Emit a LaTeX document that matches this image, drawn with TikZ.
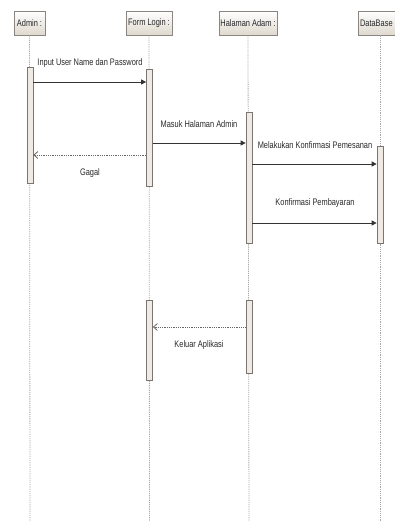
\documentclass[tikz,border=0pt]{standalone}
\usepackage{fontspec}
\setmainfont{Liberation Sans}[FakeStretch=0.78]
\usetikzlibrary{arrows.meta}
\definecolor{hdfill}{HTML}{DFD9CE}
\definecolor{hdline}{HTML}{8A8580}
\definecolor{barfill}{HTML}{EFEBE4}
\definecolor{barline}{HTML}{7A7570}
\definecolor{lifegray}{HTML}{A8A8A8}
\definecolor{txt}{HTML}{282828}
\begin{document}
\begin{tikzpicture}[x=1pt,y=-1pt,
  header/.style={draw=hdline,line width=0.7pt,top color=white,bottom color=hdfill,inner sep=0pt,font=\fontsize{9.5}{10}\selectfont,text=txt},
  bar/.style={draw=barline,line width=0.7pt,fill=barfill},
  life/.style={draw=lifegray,line width=0.8pt,dash pattern=on 1.2pt off 1pt},
  msg/.style={draw=black!80,line width=0.8pt,-{Triangle[length=5pt,width=5pt]}},
  ret/.style={draw=black!60,line width=0.8pt,dash pattern=on 1pt off 0.8pt,-{Straight Barb[length=4pt,width=7pt]}},
  lbl/.style={font=\fontsize{9.5}{10}\selectfont,text=txt,inner sep=0pt}]
\useasboundingbox (0,0) rectangle (395,521);
\clip (0,0) rectangle (395,521);
% headers
\node[header,minimum width=31pt,minimum height=24pt] (hA) at (29.5,23) {Admin :};
\node[header,minimum width=46pt,minimum height=24pt] (hF) at (149,23) {Form Login :};
\node[header,minimum width=58pt,minimum height=24pt] (hH) at (248,23) {Halaman Adam :};
\node[header,minimum width=44pt,minimum height=24pt,anchor=west] (hD) at (358,23) {\hspace*{-8pt}DataBase};
% lifeline ends
\coordinate (eA) at (30,521);
\coordinate (eF) at (149.5,521);
\coordinate (eH) at (249,521);
\coordinate (eD) at (380.5,521);
\draw[life] (hA.south) -- (eA);
\draw[life] (hF.south) -- (eF);
\draw[life] (hH.south) -- (eH);
\draw[life] (hD.south -| eD) -- (eD);
% activation bars
\node[bar,minimum width=6pt,minimum height=116pt,inner sep=0pt] (bA) at (30,125) {};
\node[bar,minimum width=6pt,minimum height=117pt,inner sep=0pt] (bF1) at (149.5,127.5) {};
\node[bar,minimum width=6pt,minimum height=131pt,inner sep=0pt] (bH1) at (249,177.5) {};
\node[bar,minimum width=6pt,minimum height=97pt,inner sep=0pt] (bD) at (380,194.5) {};
\node[bar,minimum width=6pt,minimum height=80pt,inner sep=0pt] (bF2) at (149.5,340) {};
\node[bar,minimum width=6pt,minimum height=73pt,inner sep=0pt] (bH2) at (249,336.5) {};
% messages
\draw[msg] (bA.east |- 0,82) -- (bF1.west |- 0,82);
\node[lbl] (l1) at (90,63) {Input User Name dan Password};
\draw[ret] (bF1.west |- 0,155) -- (bA.east |- 0,155);
\node[lbl] (l2) at (90,173) {Gagal};
\draw[msg] (bF1.east |- 0,143) -- (bH1.west |- 0,143);
\node[lbl] (l3) at (199,124) {Masuk Halaman Admin};
\draw[msg] (bH1.east |- 0,164) -- (bD.west |- 0,164);
\node[lbl] (l4) at (315,145) {Melakukan Konfirmasi Pemesanan};
\draw[msg] (bH1.east |- 0,223) -- (bD.west |- 0,223);
\node[lbl] (l5) at (315,203) {Konfirmasi Pembayaran};
\draw[ret] (bH2.west |- 0,327) -- (bF2.east |- 0,327);
\node[lbl] (l6) at (199,345) {Keluar Aplikasi};
\end{tikzpicture}
\end{document}
